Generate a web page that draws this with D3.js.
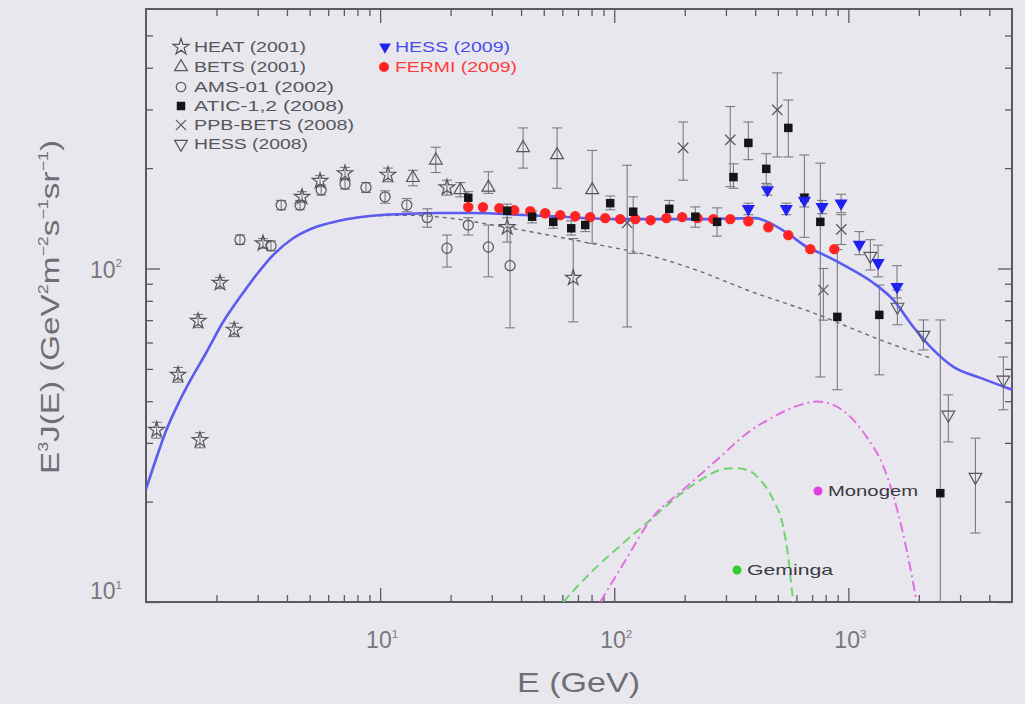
<!DOCTYPE html>
<html><head><meta charset="utf-8">
<script src="https://cdn.jsdelivr.net/npm/d3@7"></script>
<style>
html,body{margin:0;padding:0;background:#e9e7ee;}
svg{display:block;}
</style></head>
<body><svg id="chart" width="1025" height="704"></svg>
<script>
// Energies in GeV, fluxes as E^3 J(E) in GeV^2 m^-2 s^-1 sr^-1

// HEAT (2001) — open stars
const heatE  = [1.11, 1.37, 1.67, 1.70, 2.07, 2.38, 3.16, 4.64, 5.54, 7.08, 10.8, 19.3, 34.9, 66.8];
const heatV  = [32.8, 48.0, 69.6, 30.6, 90.6, 65.5, 119, 164, 183, 193, 191, 175, 133, 93.7];
const heatLo = [31.0, 45.6, 66.5, 29.0, 87.0, 62.5, 115, 158, 176, 185, 182, 166, 120, 69.2];
const heatHi = [34.6, 50.5, 72.8, 32.2, 94.0, 68.5, 123, 170, 190, 201, 200, 184, 147, 123];

// BETS (2001) — open up-triangles
const betsE  = [13.8, 17.3, 22.0, 29.0, 40.8, 57.0, 80.5];
const betsV  = [187, 211, 172, 175, 230, 219, 172];
const betsLo = [177, 194, 164, 168, 200, 174, 119];
const betsHi = [197, 231, 181, 195, 264, 264, 226];

// AMS-01 (2002) — open circles
const amsE  = [2.52, 3.42, 3.78, 4.55, 5.60, 7.08, 8.70, 10.5, 13.0, 15.9, 19.3, 23.8, 29.0, 35.9];
const amsV  = [122, 117, 155, 155, 172, 179, 175, 164, 155, 142, 115, 135, 116, 102];
const amsLo = [118, 113, 150, 150, 166, 173, 169, 157, 148, 133, 101, 126, 94.4, 66.4];
const amsHi = [126, 121, 160, 160, 178, 185, 181, 171, 162, 151, 126, 142, 135, 133];

// ATIC-1,2 (2008) — filled squares
const aticE  = [23.8, 34.9, 44.6, 54.9, 65.5, 75.2, 96.1, 120.5, 171.8, 222, 275, 323, 374, 446, 554, 649, 759, 897, 1356, 2470];
const aticV  = [163, 149, 143, 138, 132, 135, 157, 148, 151, 143, 138, 188, 238, 199, 264, 163, 138, 71.6, 72.6, 21.2];
const aticLo = [155, 142, 137, 132, 126, 129, 150, 111, 141, 133, 125, 174, 212, 180, 216, 124, 47.3, 43.3, 48.0, 8];
const aticHi = [170, 156, 149, 144, 139, 142, 165, 164, 160, 153, 152, 206, 275, 221, 320, 219, 207, 114, 89.2, 70.1];

// PPB-BETS (2008) — crosses
const ppbE  = [113.6, 197, 313, 497, 782, 933];
const ppbV  = [137, 230, 243, 299, 86.2, 131];
const ppbLo = [66.8, 184, 176, 216, 70, 118];
const ppbHi = [204, 275, 306, 386, 100, 145];

// HESS (2008) — open down-triangles
const hess08E  = [1242, 1620, 2093, 2673, 3490, 4592];
const hess08V  = [109, 76.7, 63.2, 36.4, 23.7, 46.4];
const hess08Lo = [99, 67.8, 57.0, 30.2, 16.1, 37.7];
const hess08Hi = [122, 86.2, 70.1, 41.8, 31.0, 54.3];

// HESS (2009) — filled blue down-triangles
const hess09E  = [374, 451, 543, 649, 772, 931, 1114, 1340, 1614];
const hess09V  = [151, 172, 151, 160, 153, 157, 118, 104, 88.1];
const hess09Lo = [145, 166, 145, 153, 146, 147, 110, 94.4, 81.6];
const hess09Hi = [157, 178, 157, 167, 160, 167, 129, 117.5, 102];

// FERMI (2009) — filled red circles
const fermiE = [23.8, 27.5, 32.3, 37.4, 43.8, 50.7, 58.8, 68.1, 78.9, 91.5, 106, 123, 143, 167, 195, 227, 265, 313, 374, 455, 554, 688, 871];
const fermiV = [152.8, 152.8, 151.7, 149.6, 148.6, 146.5, 144.5, 143.5, 142.6, 141.6, 140.6, 140.6, 139.6, 141.6, 142.6, 141.6, 140.6, 140.6, 138.6, 133.0, 125.9, 114.3, 114.3];

// Model: total flux (background + pulsars)
const totalE = [1.0, 1.103, 1.218, 1.370, 1.542, 1.805, 2.134, 2.522, 2.981, 3.524, 4.205, 5.172, 6.614, 9.06, 12.79, 18.04, 24.2, 53.2, 106, 233, 401, 464, 549, 668, 759, 991, 1280, 1556, 1896, 2307, 2811, 3668, 5000];
const totalV = [21.8, 26.8, 32.6, 39.2, 46.0, 55.8, 69.1, 82.1, 96.3, 110.5, 122.6, 132.3, 138.8, 143.7, 145.7, 146.7, 146.7, 143.5, 140.6, 140.6, 141.6, 136.8, 127.6, 115.8, 111.2, 101, 90.5, 80.5, 66.8, 57.0, 50.7, 47.0, 43.3];

// Model: secondary / background component
const bgE = [1.0, 1.103, 1.218, 1.370, 1.542, 1.805, 2.134, 2.522, 2.981, 3.524, 4.205, 5.172, 6.614, 9.06, 12.79, 18.0, 35.9, 87.1, 129, 233, 369, 708, 1370, 2240];
const bgV = [21.8, 26.8, 32.6, 39.2, 46.0, 55.8, 69.1, 82.1, 96.3, 110.5, 122.6, 132.3, 138.8, 143.5, 144.5, 142.6, 132.2, 117.5, 111.2, 98.0, 86.2, 73.6, 61.1, 53.9];

// Model: Monogem pulsar
const monogemE = [87.1, 113.6, 142.5, 197, 275, 370, 478, 623, 736, 863, 1020, 1206, 1412, 1620, 1786, 1960];
const monogemV = [10, 13.6, 17.6, 21.7, 26.7, 32.1, 35.9, 39.0, 39.9, 39.0, 35.9, 31.0, 25.5, 18.8, 14.0, 10];

// Model: Geminga pulsar
const gemingaE = [60.5, 78.9, 109, 142.5, 186, 233, 284, 323, 370, 421, 478, 527, 554, 576, 582];
const gemingaV = [10, 12.2, 15.0, 17.6, 20.7, 23.2, 24.9, 25.2, 24.9, 23.2, 20.2, 16.8, 13.6, 10.6, 10];

// Axis ticks
const xMajor = [10, 100, 1000];
const xMinor = [2,3,4,5,6,7,8,9, 20,30,40,50,60,70,80,90, 200,300,400,500,600,700,800,900, 2000,3000,4000];
const yMajor = [10, 100];
const yMinor = [20,30,40,50,60,70,80,90, 200,300,400,500];

// Legend entries
const legendLeft = ["HEAT (2001)", "BETS (2001)", "AMS-01 (2002)", "ATIC-1,2 (2008)", "PPB-BETS (2008)", "HESS (2008)"];
const legendRight = ["HESS (2009)", "FERMI (2009)"];

const W = 1025, H = 704;
const plot = {left: 146, right: 1012, top: 9, bottom: 602};
const svg = d3.select("#chart");
const FONT = "'Liberation Sans', Arial, sans-serif";
const AXIS = "#5a5a60", ERR = "#7a7a80", MK = "#55555a";

svg.append("rect").attr("width", W).attr("height", H).attr("fill", "#e9e7ee");

const x = d3.scaleLog().domain([1, 5000]).range([plot.left, plot.right]);
const y = d3.scaleLog().domain([10, 600]).range([plot.bottom, plot.top]);

svg.append("defs").append("clipPath").attr("id", "plotclip")
  .append("rect").attr("x", plot.left).attr("y", plot.top)
  .attr("width", plot.right - plot.left).attr("height", plot.bottom - plot.top);

// ---- axes: ticks on all four sides, pointing inward ----
function tickAxis(axisFn, scale, values, size, transform) {
  svg.append("g").attr("transform", transform)
    .call(axisFn(scale).tickValues(values).tickSize(size).tickFormat(""))
    .call(g => g.select(".domain").remove())
    .call(g => g.selectAll("line").attr("stroke", AXIS).attr("stroke-width", 1.3));
}
tickAxis(d3.axisBottom, x, xMinor, -7, `translate(0,${plot.bottom})`);
tickAxis(d3.axisBottom, x, xMajor, -14, `translate(0,${plot.bottom})`);
tickAxis(d3.axisTop, x, xMinor, -7, `translate(0,${plot.top})`);
tickAxis(d3.axisTop, x, xMajor, -14, `translate(0,${plot.top})`);
tickAxis(d3.axisLeft, y, yMinor, -7, `translate(${plot.left},0)`);
tickAxis(d3.axisLeft, y, yMajor, -14, `translate(${plot.left},0)`);
tickAxis(d3.axisRight, y, yMinor, -7, `translate(${plot.right},0)`);
tickAxis(d3.axisRight, y, yMajor, -14, `translate(${plot.right},0)`);

svg.append("rect").attr("x", plot.left).attr("y", plot.top)
  .attr("width", plot.right - plot.left).attr("height", plot.bottom - plot.top)
  .attr("fill", "none").attr("stroke", AXIS).attr("stroke-width", 2);

// power-of-ten labels
function powLabel(sel, exp, size) {
  sel.append("tspan").text("10");
  sel.append("tspan").attr("dy", -size * 0.45).attr("font-size", size * 0.5).text(exp);
}
xMajor.forEach(v => {
  const t = svg.append("text").attr("x", x(v) + 2).attr("y", 648)
    .attr("text-anchor", "middle").attr("font-family", FONT).attr("font-size", 23)
    .attr("fill", "#77777c");
  powLabel(t, Math.round(Math.log10(v)), 23);
});
yMajor.forEach(v => {
  const yy = Math.min(y(v), plot.bottom - 12);
  const t = svg.append("text").attr("x", 122).attr("y", yy + 9)
    .attr("text-anchor", "end").attr("font-family", FONT).attr("font-size", 23)
    .attr("fill", "#77777c");
  powLabel(t, Math.round(Math.log10(v)), 23);
});

// axis titles
svg.append("text").attr("x", 517).attr("y", 692)
  .attr("font-family", FONT).attr("font-size", 28).attr("fill", "#6e6e74")
  .attr("textLength", 123).attr("lengthAdjust", "spacingAndGlyphs").text("E (GeV)");

const yt = svg.append("text").attr("transform", "translate(59,474) rotate(-90)")
  .attr("font-family", FONT).attr("font-size", 26)
  .attr("fill", "#6e6e74").attr("textLength", 334).attr("lengthAdjust", "spacingAndGlyphs");
[["E",0],["3",1],["J(E) (GeV",0],["2",1],["m",0],["\u22122",1],["s",0],["\u22121",1],["sr",0],["\u22121",1],[")",0]]
  .forEach(([s, sup], i, arr) => {
    const prevSup = i > 0 && arr[i-1][1];
    const ts = yt.append("tspan").text(s);
    if (sup) ts.attr("font-size", 14).attr("dy", prevSup ? 0 : -11);
    else if (prevSup) ts.attr("dy", 11);
  });

// ---- model curves ----
const plotG = svg.append("g").attr("clip-path", "url(#plotclip)");
const line = d3.line().x(d => x(d[0])).y(d => y(d[1])).curve(d3.curveMonotoneX);
const zip = (a, b) => a.map((v, i) => [v, b[i]]);

plotG.append("path").attr("d", line(zip(bgE, bgV))).attr("fill", "none")
  .attr("stroke", "#6a6a70").attr("stroke-width", 1.4).attr("stroke-dasharray", "4,4");
plotG.append("path").attr("d", line(zip(gemingaE, gemingaV))).attr("fill", "none")
  .attr("stroke", "#6fd46f").attr("stroke-width", 2).attr("stroke-dasharray", "9,5");
plotG.append("path").attr("d", line(zip(monogemE, monogemV))).attr("fill", "none")
  .attr("stroke", "#e070e0").attr("stroke-width", 2).attr("stroke-dasharray", "10,4,2,4");

// ---- error bars ----
function errorBars(E, V, lo, hi) {
  const g = plotG.append("g").attr("stroke", ERR).attr("stroke-width", 1.1).attr("fill", "none");
  E.forEach((e, i) => {
    if (lo[i] == null) return;
    const cx = x(e), y0 = y(lo[i]), y1 = y(hi[i]);
    g.append("line").attr("x1", cx).attr("x2", cx).attr("y1", y0).attr("y2", y1);
    g.append("line").attr("x1", cx - 5).attr("x2", cx + 5).attr("y1", y0).attr("y2", y0);
    g.append("line").attr("x1", cx - 5).attr("x2", cx + 5).attr("y1", y1).attr("y2", y1);
  });
}
errorBars(heatE, heatV, heatLo, heatHi);
errorBars(betsE, betsV, betsLo, betsHi);
errorBars(amsE, amsV, amsLo, amsHi);
errorBars(aticE, aticV, aticLo, aticHi);
errorBars(ppbE, ppbV, ppbLo, ppbHi);
errorBars(hess08E, hess08V, hess08Lo, hess08Hi);
errorBars(hess09E, hess09V, hess09Lo, hess09Hi);

// total model
plotG.append("path").attr("d", line(zip(totalE, totalV))).attr("fill", "none")
  .attr("stroke", "#5b5bf0").attr("stroke-width", 2.6);

// ---- markers ----
function marker(type, size) {
  return d3.symbol().type(type).size(size)();
}
function points(E, V, type, size, style, rot) {
  const g = plotG.append("g");
  E.forEach((e, i) => {
    const p = g.append("path").attr("d", marker(type, size))
      .attr("transform", `translate(${x(e)},${y(V[i])})${rot ? " rotate(180)" : ""}`);
    Object.entries(style).forEach(([k, v]) => p.attr(k, v));
  });
}
const openStyle = {fill: "none", stroke: MK, "stroke-width": 1.2};
points(heatE, heatV, d3.symbolStar, 75, openStyle);
points(betsE, betsV, d3.symbolTriangle, 70, openStyle);
points(amsE, amsV, d3.symbolCircle, 80, openStyle);
points(ppbE, ppbV, d3.symbolTimes, 70, openStyle);
points(hess08E, hess08V, d3.symbolTriangle, 70, openStyle, true);
points(fermiE, fermiV, d3.symbolCircle, 85, {fill: "#ff2424", stroke: "none"});
points(aticE, aticV, d3.symbolSquare, 72, {fill: "#151518", stroke: "none"});
points(hess09E, hess09V, d3.symbolTriangle, 75, {fill: "#2020f0", stroke: "none"}, true);

// pulsar labels
[["Monogem", 818, 491, "#e040e0", 90], ["Geminga", 737, 570, "#33cc33", 86]].forEach(([name, px, py, c, w]) => {
  svg.append("circle").attr("cx", px).attr("cy", py).attr("r", 4.5).attr("fill", c);
  svg.append("text").attr("x", px + 10).attr("y", py + 5).attr("font-family", FONT)
    .attr("font-size", 15).attr("fill", "#3a3a40")
    .attr("textLength", w).attr("lengthAdjust", "spacingAndGlyphs").text(name);
});

// ---- legend ----
const legSymbols = [
  [d3.symbolStar, 80, openStyle, false],
  [d3.symbolTriangle, 70, openStyle, false],
  [d3.symbolCircle, 70, openStyle, false],
  [d3.symbolSquare, 72, {fill: "#151518", stroke: "none"}, false],
  [d3.symbolTimes, 70, openStyle, false],
  [d3.symbolTriangle, 70, openStyle, true]
];
const legWidths = [112, 112, 140, 150, 160, 114];
const legRows = [47, 67, 87, 106, 125, 144];
legendLeft.forEach((name, i) => {
  const [t, s, st, rot] = legSymbols[i];
  const p = svg.append("path").attr("d", marker(t, s))
    .attr("transform", `translate(181,${legRows[i]})${rot ? " rotate(180)" : ""}`);
  Object.entries(st).forEach(([k, v]) => p.attr(k, v));
  svg.append("text").attr("x", 194).attr("y", legRows[i] + 5).attr("font-family", FONT)
    .attr("font-size", 14).attr("fill", "#55555b")
    .attr("textLength", legWidths[i]).attr("lengthAdjust", "spacingAndGlyphs").text(name);
});
const rightCols = [["#2020f0", "#4a4af0", 115], ["#ff2424", "#ff3a3a", 122]];
legendRight.forEach((name, i) => {
  const yy = [47, 67][i];
  if (i === 0) {
    svg.append("path").attr("d", marker(d3.symbolTriangle, 60))
      .attr("transform", `translate(385,${yy}) rotate(180)`).attr("fill", rightCols[i][0]);
  } else {
    svg.append("circle").attr("cx", 384).attr("cy", yy).attr("r", 5).attr("fill", rightCols[i][0]);
  }
  svg.append("text").attr("x", 395).attr("y", yy + 5).attr("font-family", FONT)
    .attr("font-size", 14).attr("fill", rightCols[i][1])
    .attr("textLength", rightCols[i][2]).attr("lengthAdjust", "spacingAndGlyphs").text(name);
});
</script>
</body></html>
